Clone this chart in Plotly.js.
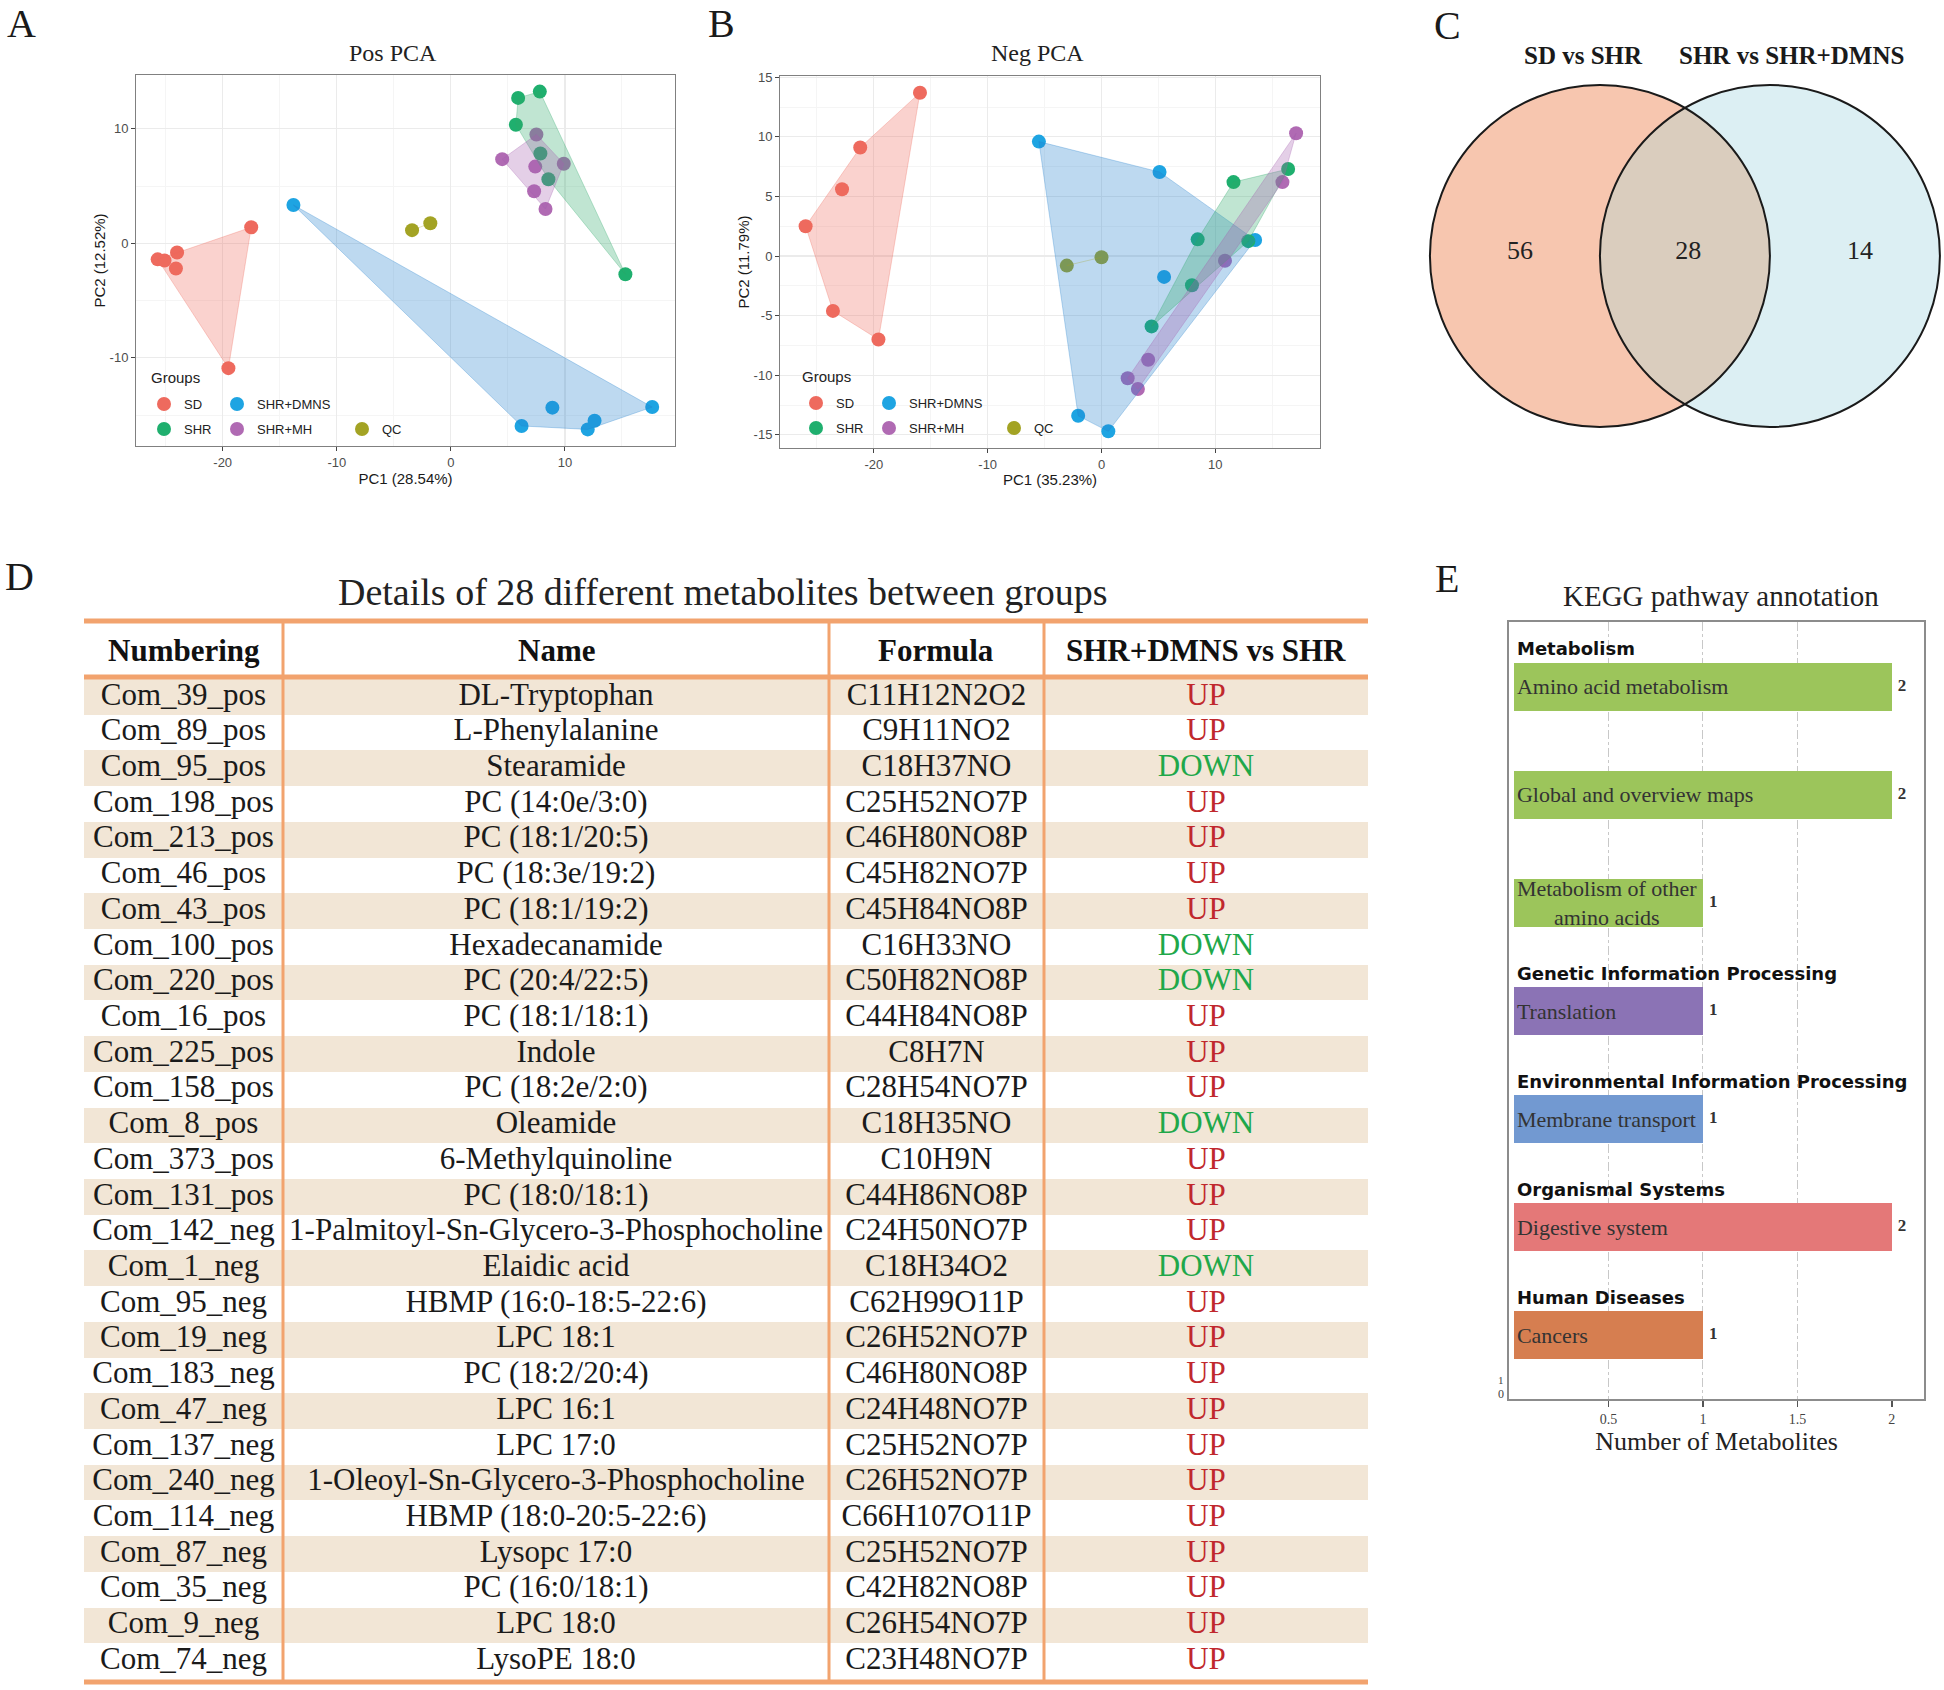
<!DOCTYPE html>
<html><head><meta charset="utf-8">
<script src="https://cdn.plot.ly/plotly-3.0.1.min.js"></script>
<style>html,body{margin:0;padding:0;background:#fff;}#chart{width:1944px;height:1690px;}</style>
</head><body><div id="chart"></div>
<script>
// ================= DATA =================
const groupNames  = ['SD','SHR+DMNS','SHR','SHR+MH','QC'];
const groupColors = ['#EE6A5E','#1EA4E2','#1FAF6E','#B06AB3','#A3A324'];
const hullColors  = ['#EE6A5E','#2380CD','#2FA86A','#A45FAE','#A3A324'];

// A. Pos PCA scores (PC1, PC2)
const posSD_x   = [-17.5,-24.0,-25.7,-25.1,-24.1,-19.5];
const posSD_y   = [1.4,-0.8,-1.4,-1.5,-2.2,-10.9];
const posDMNS_x = [-13.8,8.9,17.65,6.2,12.0,12.6];
const posDMNS_y = [3.35,-14.35,-14.3,-15.95,-16.25,-15.5];
const posSHR_x  = [5.9,7.8,5.7,7.85,8.55,15.3];
const posSHR_y  = [12.7,13.25,10.35,7.85,5.6,-2.7];
const posMH_x   = [7.5,4.5,7.4,9.9,7.3,8.3];
const posMH_y   = [9.5,7.35,6.7,6.95,4.55,3.0];
const posQC_x   = [-3.4,-1.8];
const posQC_y   = [1.15,1.75];

// B. Neg PCA scores
const negSD_x   = [-15.95,-21.2,-22.8,-26.0,-23.6,-19.6];
const negSD_y   = [13.7,9.1,5.6,2.5,-4.6,-7.0];
const negDMNS_x = [-5.5,5.1,5.5,13.5,-2.05,0.6];
const negDMNS_y = [9.6,7.05,-1.75,1.35,-13.4,-14.7];
const negSHR_x  = [11.6,16.4,8.45,12.9,7.95,4.4];
const negSHR_y  = [6.2,7.3,1.4,1.25,-2.45,-5.9];
const negMH_x   = [17.1,15.9,10.85,4.1,2.3,3.2];
const negMH_y   = [10.3,6.2,-0.4,-8.7,-10.25,-11.15];
const negQC_x   = [-3.05,0];
const negQC_y   = [-0.8,-0.1];

const pcaXTicks = [-20,-10,0,10];
const posYTicks = [-10,0,10];
const negYTicks = [-15,-10,-5,0,5,10,15];

// C. Venn
const vennSets   = ['SD vs SHR','SHR vs SHR+DMNS'];
const vennCounts = [56, 28, 14];   // only left, shared, only right

// D. Table
const tblHeaders = ['Numbering','Name','Formula','SHR+DMNS vs SHR'];
const tblNumbering = ['Com_39_pos','Com_89_pos','Com_95_pos','Com_198_pos','Com_213_pos','Com_46_pos','Com_43_pos','Com_100_pos','Com_220_pos','Com_16_pos','Com_225_pos','Com_158_pos','Com_8_pos','Com_373_pos','Com_131_pos','Com_142_neg','Com_1_neg','Com_95_neg','Com_19_neg','Com_183_neg','Com_47_neg','Com_137_neg','Com_240_neg','Com_114_neg','Com_87_neg','Com_35_neg','Com_9_neg','Com_74_neg'];
const tblName = ['DL-Tryptophan','L-Phenylalanine','Stearamide','PC (14:0e/3:0)','PC (18:1/20:5)','PC (18:3e/19:2)','PC (18:1/19:2)','Hexadecanamide','PC (20:4/22:5)','PC (18:1/18:1)','Indole','PC (18:2e/2:0)','Oleamide','6-Methylquinoline','PC (18:0/18:1)','1-Palmitoyl-Sn-Glycero-3-Phosphocholine','Elaidic acid','HBMP (16:0-18:5-22:6)','LPC 18:1','PC (18:2/20:4)','LPC 16:1','LPC 17:0','1-Oleoyl-Sn-Glycero-3-Phosphocholine','HBMP (18:0-20:5-22:6)','Lysopc 17:0','PC (16:0/18:1)','LPC 18:0','LysoPE 18:0'];
const tblFormula = ['C11H12N2O2','C9H11NO2','C18H37NO','C25H52NO7P','C46H80NO8P','C45H82NO7P','C45H84NO8P','C16H33NO','C50H82NO8P','C44H84NO8P','C8H7N','C28H54NO7P','C18H35NO','C10H9N','C44H86NO8P','C24H50NO7P','C18H34O2','C62H99O11P','C26H52NO7P','C46H80NO8P','C24H48NO7P','C25H52NO7P','C26H52NO7P','C66H107O11P','C25H52NO7P','C42H82NO8P','C26H54NO7P','C23H48NO7P'];
const tblChange = ['UP','UP','DOWN','UP','UP','UP','UP','DOWN','DOWN','UP','UP','UP','DOWN','UP','UP','UP','DOWN','UP','UP','UP','UP','UP','UP','UP','UP','UP','UP','UP'];

// E. KEGG
const keggPathways = ['Amino acid metabolism','Global and overview maps','Metabolism of other<br>amino acids','Translation','Membrane transport','Digestive system','Cancers'];
const keggCounts   = [2,2,1,1,1,2,1];
const keggClasses  = ['Metabolism','Metabolism','Metabolism','Genetic Information Processing','Environmental Information Processing','Organismal Systems','Human Diseases'];
const keggClassColors = {'Metabolism':'#9CC55B','Genetic Information Processing':'#8B73B5','Environmental Information Processing':'#7299D1','Organismal Systems':'#E47878','Human Diseases':'#D67E50'};
const keggXTicks = [0.5,1,1.5,2];

// ================= HELPERS =================
const W = 1944, H = 1690;
const px = v => v / W;
const py = v => 1 - v / H;
const SERIF = 'Liberation Serif, Times New Roman, serif';
const SANS  = 'Liberation Sans, Arial, sans-serif';
const DJV   = 'DejaVu Sans, Verdana, sans-serif';

function rgba(hex, a){
  const n = parseInt(hex.slice(1),16);
  return `rgba(${(n>>16)&255},${(n>>8)&255},${n&255},${a})`;
}
function hull(xs, ys){
  const pts = xs.map((x,i)=>[x,ys[i]]).sort((a,b)=>a[0]-b[0]||a[1]-b[1]);
  if (pts.length < 3) return pts;
  const cross=(o,a,b)=>(a[0]-o[0])*(b[1]-o[1])-(a[1]-o[1])*(b[0]-o[0]);
  const lower=[], upper=[];
  for (const p of pts){ while(lower.length>=2 && cross(lower[lower.length-2],lower[lower.length-1],p)<=0) lower.pop(); lower.push(p); }
  for (const p of pts.slice().reverse()){ while(upper.length>=2 && cross(upper[upper.length-2],upper[upper.length-1],p)<=0) upper.pop(); upper.push(p); }
  upper.pop(); lower.pop();
  const h = lower.concat(upper); h.push(h[0]); return h;
}

const traces = [];
function pcaTraces(sets, xa, ya, legendIds){
  const pts=[], hulls=[];
  sets.forEach((s,g)=>{
    pts.push({type:'scatter', mode:'markers', x:s[0], y:s[1], xaxis:xa, yaxis:ya,
      name:groupNames[g], legend:legendIds[g], marker:{size:14, color:groupColors[g]}, hoverinfo:'skip'});
    const h = hull(s[0], s[1]);
    hulls.push({type:'scatter', mode:'lines', x:h.map(p=>p[0]), y:h.map(p=>p[1]), xaxis:xa, yaxis:ya,
      fill:'toself', fillcolor:rgba(hullColors[g],0.3), line:{width:1, color:rgba(hullColors[g],0.3)},
      showlegend:false, hoverinfo:'skip'});
  });
  return pts.concat(hulls);
}
traces.push(...pcaTraces([[posSD_x,posSD_y],[posDMNS_x,posDMNS_y],[posSHR_x,posSHR_y],[posMH_x,posMH_y],[posQC_x,posQC_y]],
  'x','y',['legend','legend2','legend3','legend4','legend5']));
traces.push(...pcaTraces([[negSD_x,negSD_y],[negDMNS_x,negDMNS_y],[negSHR_x,negSHR_y],[negMH_x,negMH_y],[negQC_x,negQC_y]],
  'x2','y2',['legend6','legend7','legend8','legend9','legend10']));

// ---- Venn (x3/y3): circles of radius 1, centres at -0.5 and +0.5
const vennR = 1, vennC = [-0.5, 0.5];
const lens = [];
for (let k=0;k<=60;k++){ const a=(120+k*2)*Math.PI/180; lens.push([vennC[1]+vennR*Math.cos(a), vennR*Math.sin(a)]); }
for (let k=0;k<=60;k++){ const a=(-60+k*2)*Math.PI/180; lens.push([vennC[0]+vennR*Math.cos(a), vennR*Math.sin(a)]); }
traces.push({type:'scatter', mode:'lines', x:lens.map(p=>p[0]), y:lens.map(p=>p[1]), xaxis:'x3', yaxis:'y3',
  fill:'toself', fillcolor:'#DACDBE', line:{width:0}, showlegend:false, hoverinfo:'skip'});
traces.push({type:'scatter', mode:'text', x:[-0.97, 0.02, 1.03], y:[0.02,0.02,0.02], xaxis:'x3', yaxis:'y3',
  text:vennCounts.map(String), textfont:{family:SERIF, size:26, color:'#222'}, showlegend:false, hoverinfo:'skip'});

// ---- Table (x5/y5)
const nRows = tblNumbering.length;
const rowIdx = tblNumbering.map((_,i)=>i);
const colWidthsPx = [199, 546, 215, 324];
const totW = colWidthsPx.reduce((a,b)=>a+b,0);
const colCenters = []; { let acc=0; colWidthsPx.forEach(w=>{ colCenters.push((acc+w/2)/totW); acc+=w; }); }
const colBounds = []; { let acc=0; colWidthsPx.slice(0,-1).forEach(w=>{ acc+=w; colBounds.push(84+acc); }); }
traces.push({type:'bar', orientation:'h', x:rowIdx.map(()=>1), y:rowIdx, base:0, width:1, xaxis:'x5', yaxis:'y5',
  marker:{color:rowIdx.map(i=> i%2===0 ? '#F2E6D6' : 'rgba(255,255,255,0)'), line:{width:0}}, showlegend:false, hoverinfo:'skip'});
[tblNumbering, tblName, tblFormula, tblChange].forEach((col,c)=>{
  traces.push({type:'scatter', mode:'text', x:rowIdx.map(()=>colCenters[c]), y:rowIdx, xaxis:'x5', yaxis:'y5',
    text:col, textposition:'middle center', cliponaxis:false,
    textfont:{family:SERIF, size:31, color: c===3 ? col.map(v=> v==='UP' ? '#C0282D' : '#1FA84A') : '#1a1a1a'},
    showlegend:false, hoverinfo:'skip'});
});

// ---- KEGG (x4/y4)
const kIdx = keggPathways.map((_,i)=>i);
traces.push({type:'bar', orientation:'h', x:keggCounts, y:kIdx, width:0.444, xaxis:'x4', yaxis:'y4',
  marker:{color:keggClasses.map(c=>keggClassColors[c]), line:{width:0}},
  text:keggPathways, textposition:'inside', insidetextanchor:'start', textangle:0, constraintext:'none',
  insidetextfont:{family:SERIF, size:22, color:'#333'}, showlegend:false, hoverinfo:'skip'});
traces.push({type:'scatter', mode:'markers+text', x:keggCounts, y:kIdx, xaxis:'x4', yaxis:'y4', text:keggCounts.map(String),
  marker:{size:8, opacity:0}, textposition:'middle right',
  textfont:{family:SERIF, size:17, color:'#333', weight:700}, cliponaxis:false, showlegend:false, hoverinfo:'skip'});

// ================= LAYOUT =================
const pcaCommon = {showline:true, mirror:true, linecolor:'#808080', linewidth:1, ticks:'outside', ticklen:4, tickcolor:'#444',
  tickfont:{family:SANS, size:13, color:'#4d4d4d'}, showgrid:true, gridcolor:'#EBEBEB', gridwidth:1.2, zeroline:false, fixedrange:true};
function ax(extra){ return Object.assign({}, pcaCommon, extra); }
const axTitleFont = {family:SANS, size:15, color:'#1a1a1a'};

function legendAt(mx, my){
  return {x:px(mx-20), y:py(my), xanchor:'left', yanchor:'middle', orientation:'h', bgcolor:'rgba(0,0,0,0)', borderwidth:0,
    font:{family:SANS, size:13, color:'#222'}, itemsizing:'trace', itemclick:false, itemdoubleclick:false};
}
const legPosA = [[164,404],[237,404],[164,429],[237,429],[362,429]];
const legPosB = [[816,403],[889,403],[816,428],[889,428],[1014,428]];

const annotations = [];
function ann(text, x, y, font, extra){ annotations.push(Object.assign({text, x:px(x), y:py(y), xref:'paper', yref:'paper', showarrow:false, font, xanchor:'center', yanchor:'middle'}, extra||{})); }
const letterFont = {family:SERIF, size:40, color:'#1a1a1a'};
ann('A', 21, 24, letterFont); ann('B', 721, 24, letterFont); ann('C', 1447, 26, letterFont);
ann('D', 19, 576, letterFont); ann('E', 1447, 578, letterFont);
ann('Pos PCA', 393, 53, {family:SERIF, size:24, color:'#222'});
ann('Neg PCA', 1037, 53, {family:SERIF, size:24, color:'#222'});
ann('Groups', 149, 377, {family:SANS, size:15, color:'#222'}, {xanchor:'left'});
ann('Groups', 800, 376, {family:SANS, size:15, color:'#222'}, {xanchor:'left'});
ann(vennSets[0], 1583, 55, {family:SERIF, size:25, color:'#1a1a1a', weight:700});
ann(vennSets[1], 1791, 55, {family:SERIF, size:25, color:'#1a1a1a', weight:700});
ann('Details of 28 different metabolites between groups', 723, 592, {family:SERIF, size:38, color:'#222'});
tblHeaders.forEach((h,c)=> ann(h, 84 + colCenters[c]*totW, 651, {family:SERIF, size:31, color:'#111', weight:700}));
ann('KEGG pathway annotation', 1721, 596, {family:SERIF, size:29, color:'#222'});
ann('1', 1501, 1380, {family:SERIF, size:11, color:'#444'});
ann('0', 1501, 1394, {family:SERIF, size:12, color:'#444'});
keggClasses.forEach((c,i)=>{ if (i===0 || keggClasses[i-1]!==c) annotations.push({text:c, x:0, y:i-0.352, xref:'x4', yref:'y4', xanchor:'left', yanchor:'middle', xshift:1, showarrow:false, font:{family:DJV, size:18, color:'#111', weight:700}}); });

const shapes = [];
// Venn circles
vennC.forEach((cx,k)=>{
  shapes.push({type:'circle', xref:'x3', yref:'y3', x0:cx-vennR, x1:cx+vennR, y0:-vennR, y1:vennR, layer:'below', fillcolor: k===0 ? '#F7C6AF' : '#DCEFF3', line:{width:0}});
});
vennC.forEach(cx=>{
  shapes.push({type:'circle', xref:'x3', yref:'y3', x0:cx-vennR, x1:cx+vennR, y0:-vennR, y1:vennR, layer:'above', fillcolor:'rgba(0,0,0,0)', line:{width:2, color:'#1a1a1a'}});
});
// Table rules
const ORANGE = '#F2A36E';
[[621,5],[677,5],[1682,5]].forEach(([y,w])=> shapes.push({type:'line', xref:'paper', yref:'paper', x0:px(84), x1:px(1368), y0:py(y), y1:py(y), line:{color:ORANGE, width:w}}));
colBounds.forEach(x=> shapes.push({type:'line', xref:'paper', yref:'paper', x0:px(x), x1:px(x), y0:py(619), y1:py(1684), line:{color:ORANGE, width:3}}));

const layout = {
  width:W, height:H, margin:{l:0,r:0,t:0,b:0, autoexpand:false}, paper_bgcolor:'#fff', plot_bgcolor:'rgba(0,0,0,0)',
  hovermode:false, showlegend:true, annotations, shapes,
  xaxis: ax({domain:[px(136),px(675)], range:[-27.6,19.65], anchor:'y', tickmode:'array', tickvals:pcaXTicks, ticktext:pcaXTicks.map(String),
    minor:{tickmode:'linear', tick0:0, dtick:5, showgrid:true, gridcolor:'#F5F5F5', gridwidth:1}, title:{text:'PC1 (28.54%)', font:axTitleFont, standoff:3}}),
  yaxis: ax({domain:[py(446),py(75)], range:[-17.7,14.7], anchor:'x', tickmode:'array', tickvals:posYTicks, ticktext:posYTicks.map(String),
    minor:{tickmode:'linear', tick0:0, dtick:5, showgrid:true, gridcolor:'#F5F5F5', gridwidth:1}, title:{text:'PC2 (12.52%)', font:axTitleFont, standoff:0}}),
  xaxis2: ax({domain:[px(780),px(1320)], range:[-28.25,19.2], anchor:'y2', tickmode:'array', tickvals:pcaXTicks, ticktext:pcaXTicks.map(String),
    minor:{tickmode:'linear', tick0:0, dtick:5, showgrid:true, gridcolor:'#F5F5F5', gridwidth:1}, title:{text:'PC1 (35.23%)', font:axTitleFont, standoff:3}}),
  yaxis2: ax({domain:[py(448),py(76)], range:[-16.1,15.1], anchor:'x2', tickmode:'array', tickvals:negYTicks, ticktext:negYTicks.map(String),
    minor:{tickmode:'linear', tick0:0, dtick:2.5, showgrid:true, gridcolor:'#F5F5F5', gridwidth:1}, title:{text:'PC2 (11.79%)', font:axTitleFont, standoff:0}}),
  xaxis3: {domain:[px(1425),px(1944)], range:[-1.529,1.524], anchor:'y3', visible:false, fixedrange:true},
  yaxis3: {domain:[py(432),py(80)], range:[-1.029,1.029], anchor:'x3', visible:false, fixedrange:true},
  xaxis4: {domain:[px(1509),px(1924)], range:[-0.026,2.17], anchor:'y4', tickmode:'array', tickvals:keggXTicks, ticktext:keggXTicks.map(String),
    ticks:'outside', ticklen:6, tickwidth:1.5, tickcolor:'#555', tickfont:{family:SERIF, size:14, color:'#444'},
    showline:true, mirror:true, linecolor:'#8c8c8c', linewidth:2, showgrid:false, zeroline:false, fixedrange:true,
    minor:{tickmode:'array', tickvals:[0.5,1,1.5], showgrid:true, griddash:'dashdot', gridcolor:'#C8C8C8', gridwidth:1, ticks:''},
    title:{text:'Number of Metabolites', font:{family:SERIF, size:26, color:'#222'}, standoff:0}},
  yaxis4: {domain:[py(1399),py(622)], range:[6.59,-0.60], anchor:'x4', showticklabels:false, ticks:'', showgrid:false, zeroline:false,
    showline:true, mirror:true, linecolor:'#8c8c8c', linewidth:2, fixedrange:true},
  xaxis5: {domain:[px(84),px(1368)], range:[0,1], anchor:'y5', visible:false, fixedrange:true},
  yaxis5: {domain:[py(1679),py(679)], range:[nRows-0.5,-0.5], anchor:'x5', visible:false, fixedrange:true},
  bargap:0
};
['legend','legend2','legend3','legend4','legend5'].forEach((id,i)=> layout[id] = legendAt(...legPosA[i]));
['legend6','legend7','legend8','legend9','legend10'].forEach((id,i)=> layout[id] = legendAt(...legPosB[i]));

Plotly.newPlot('chart', traces, layout, {displayModeBar:false, staticPlot:true});
</script></body></html>
